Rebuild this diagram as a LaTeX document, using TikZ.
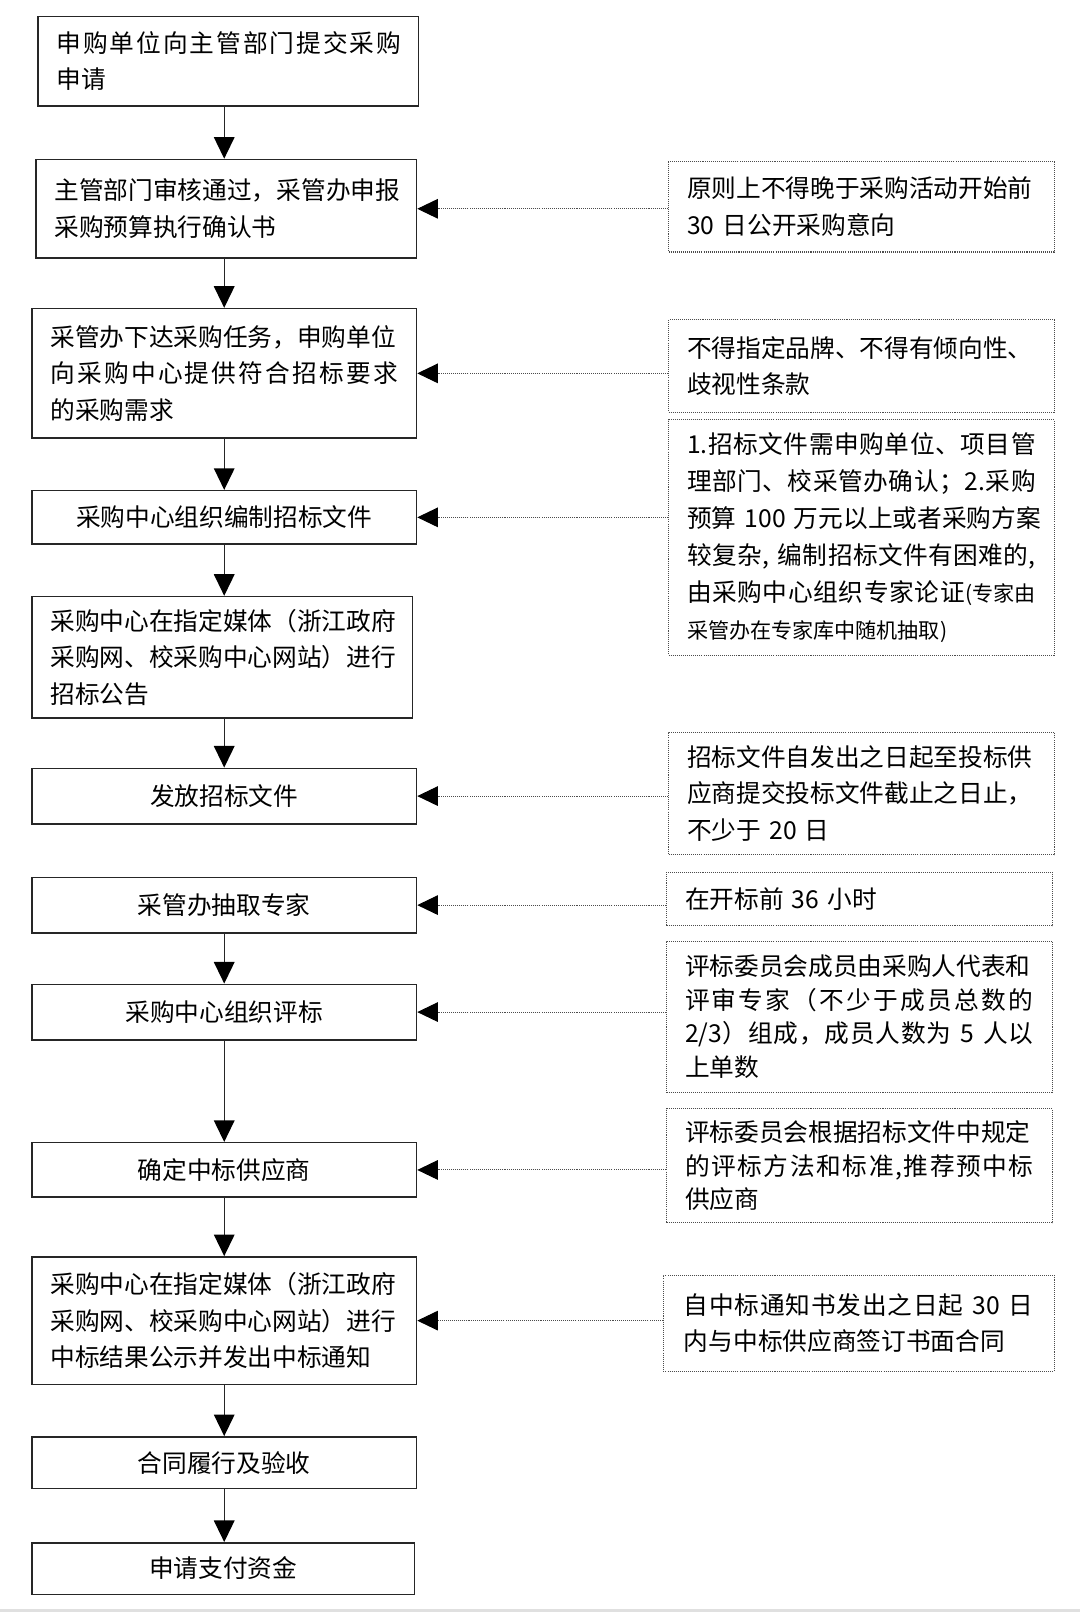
\documentclass[tikz,border=0pt]{standalone}
\usepackage{fontspec}
\setmainfont{Noto Sans CJK SC}
\usetikzlibrary{arrows.meta}
\makeatletter
\newcommand\spreadto[2]{\leavevmode\hbox to #1{\let\spsep\relax\@tfor\spc:=#2\do{\spsep\spc\let\spsep\hfil}}}
\makeatother
\newcommand\smallfs{\fontsize{20.5}{24}\selectfont}
\begin{document}
\begin{tikzpicture}[x=1pt,y=-1pt,
  lbox/.style={draw=black!85, line width=1.4pt, inner xsep=18pt, inner ysep=0pt,
    font=\fontsize{24}{35.5}\selectfont},
  lml/.style={lbox, align=left},
  lsl/.style={lbox, align=center},
  rbox/.style={draw=black!70, line width=1pt, dash pattern=on 1pt off 1pt,
    inner xsep=18pt, inner ysep=0pt, align=left,
    font=\fontsize{24}{35.5}\selectfont},
  arr/.style={draw=black!85, line width=1.4pt, -{Triangle[length=21pt,width=20pt,black]}},
  darr/.style={draw=black!70, line width=1pt, dash pattern=on 1pt off 1pt,
    -{Triangle[length=20pt,width=19pt,black]}}
]
\useasboundingbox (0,0) rectangle (1050,1567.3);
\fill[white] (0,0) rectangle (1050,1567.3);
\draw[black!12, line width=3pt] (0,1565.5) -- (1050,1565.5);

% left column
\node[lml, minimum width=370pt, minimum height=87pt, text width=334pt] (b1) at (222,59.5)
  {\spreadto{335pt}{申购单位向主管部门提交采购}\\申请};
\node[lml, minimum width=370pt, minimum height=96pt, text width=334pt] (b2) at (220,203)
  {主管部门审核通过，采管办申报\\采购预算执行确认书};
\node[lml, minimum width=374pt, minimum height=126pt, text width=338pt] (b3) at (218,363)
  {采管办下达采购任务，申购单位\\\spreadto{338pt}{向采购中心提供符合招标要求}\\的采购需求};
\node[lsl, minimum width=374pt, minimum height=52pt] (b4) at (218,503)
  {采购中心组织编制招标文件};
\node[lml, minimum width=370pt, minimum height=118pt, text width=334pt] (b5) at (216,639)
  {采购中心在指定媒体（浙江政府\\采购网、校采购中心网站）进行\\招标公告};
\node[lsl, minimum width=374pt, minimum height=54pt] (b6) at (218,774)
  {发放招标文件};
\node[lsl, minimum width=374pt, minimum height=54pt] (b7) at (218,880)
  {采管办抽取专家};
\node[lsl, minimum width=374pt, minimum height=54pt] (b8) at (218,984)
  {采购中心组织评标};
\node[lsl, minimum width=374pt, minimum height=53pt] (b9) at (218,1137.5)
  {确定中标供应商};
\node[lml, minimum width=374pt, minimum height=124pt, text width=338pt] (b10) at (218,1284)
  {采购中心在指定媒体（浙江政府\\采购网、校采购中心网站）进行\\中标结果公示并发出中标通知};
\node[lsl, minimum width=374pt, minimum height=50pt] (b11) at (218,1422)
  {合同履行及验收};
\node[lsl, minimum width=372pt, minimum height=50pt] (b12) at (217,1525)
  {申请支付资金};

% right column
\node[rbox, minimum width=375pt, minimum height=88pt, text width=339pt] (r1) at (837.5,201)
  {原则上不得晚于采购活动开始前\\30 日公开采购意向};
\node[rbox, minimum width=375pt, minimum height=90pt, text width=339pt] (r2) at (837.5,356)
  {不得指定品牌、不得有倾向性、\\歧视性条款};
\node[rbox, minimum width=375pt, minimum height=229pt, text width=339pt,
  font=\fontsize{24}{36}\selectfont] (r3) at (837.5,522.5)
  {\spreadto{339pt}{{1.}招标文件需申购单位、项目管}\\
   \spreadto{339pt}{理部门、校采管办确认；{2.}采购}\\
   \spreadto{339pt}{预算{ 100 }万元以上或者采购方案}\\
   \spreadto{339pt}{较复杂{, }编制招标文件有困难的{,}}\\
   \spreadto{339pt}{由采购中心组织专家论证{{\smallfs(专家由}}}\\
   {\smallfs 采管办在专家库中随机抽取)}};
\node[rbox, minimum width=375pt, minimum height=119pt, text width=339pt] (r4) at (837.5,771.5)
  {招标文件自发出之日起至投标供\\应商提交投标文件截止之日止，\\不少于 20 日};
\node[rbox, minimum width=375pt, minimum height=52pt, text width=339pt] (r5) at (835.5,874)
  {在开标前 36 小时};
\node[rbox, minimum width=375pt, minimum height=147pt, text width=339pt,
  font=\fontsize{24}{32.5}\selectfont] (r6) at (835.5,988.5)
  {评标委员会成员由采购人代表和\\
   \spreadto{339pt}{评审专家（不少于成员总数的}\\
   \spreadto{339pt}{{2/3}）组成，成员人数为{ 5 }人以}\\
   上单数};
\node[rbox, minimum width=375pt, minimum height=111pt, text width=339pt,
  font=\fontsize{24}{32.5}\selectfont] (r7) at (835.5,1133.5)
  {评标委员会根据招标文件中规定\\
   \spreadto{339pt}{的评标方法和标准{,}推荐预中标}\\
   供应商};
\node[rbox, minimum width=380pt, minimum height=93pt, text width=340pt,
  inner xsep=20pt] (r8) at (835,1286.5)
  {\spreadto{340pt}{自中标通知书发出之日起{ 30 }日}\\内与中标供应商签订书面合同};

% vertical flow
\coordinate (ax) at (218,0);
\draw[arr] (b1.south -| ax) -- (b2.north -| ax);
\draw[arr] (b2.south -| ax) -- (b3.north -| ax);
\draw[arr] (b3.south -| ax) -- (b4.north -| ax);
\draw[arr] (b4.south -| ax) -- (b5.north -| ax);
\draw[arr] (b5.south -| ax) -- (b6.north -| ax);
\draw[arr] (b7.south -| ax) -- (b8.north -| ax);
\draw[arr] (b8.south -| ax) -- (b9.north -| ax);
\draw[arr] (b9.south -| ax) -- (b10.north -| ax);
\draw[arr] (b10.south -| ax) -- (b11.north -| ax);
\draw[arr] (b11.south -| ax) -- (b12.north -| ax);

% dotted notes
\draw[darr] (r1.west |- b2.east) -- (b2.east);
\draw[darr] (r2.west |- b3.east) -- (b3.east);
\draw[darr] (r3.west |- b4.east) -- (b4.east);
\draw[darr] (r4.west |- b6.east) -- (b6.east);
\draw[darr] (r5.west |- b7.east) -- (b7.east);
\draw[darr] (r6.west |- b8.east) -- (b8.east);
\draw[darr] (r7.west |- b9.east) -- (b9.east);
\draw[darr] (r8.west |- b10.east) -- (b10.east);
\end{tikzpicture}
\end{document}
